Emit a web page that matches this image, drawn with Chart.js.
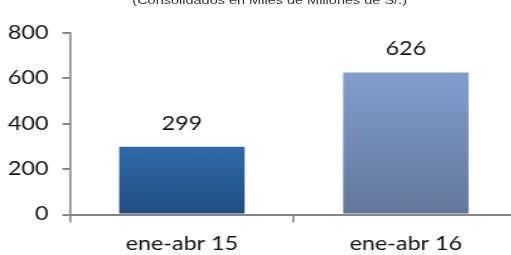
<!DOCTYPE html>
<html>
<head>
<meta charset="utf-8">
<script src="https://cdn.jsdelivr.net/npm/chart.js@4"></script>
<style>
html, body { margin: 0; padding: 0; overflow: hidden; background: #fff; width: 511px; height: 255px; }
/* the reference is a horizontally stretched export, so the chart is drawn narrower and widened */
#wrap { position: absolute; left: 0; top: 0; width: 411px; height: 255px; transform: scaleX(1.26); transform-origin: 0 0; }
#sub { position: absolute; left: 0; top: -6px; width: 428px; text-align: center; font: 11.5px "Liberation Sans", Arial, sans-serif; color: #333; white-space: nowrap; }
canvas { display: block; }
</style>
</head>
<body>
<div id="wrap">
  <canvas id="ventasChart" width="411" height="255"></canvas>
  <div id="sub">(Consolidados en Miles de Millones de S/.)</div>
</div>
<script>
// === DATA ===
const categories = ['ene-abr 15', 'ene-abr 16'];
const values = [299, 626];
const yTicks = [0, 200, 400, 600, 800];

const gradTop = ['#2f6aaa', '#819fcd'];
const gradBottom = ['#224d82', '#63769b'];
const axisColor = '#868686';
const labelFont = { family: 'Lato', size: 18.5 };

function barFill(ctx) {
    const chart = ctx.chart;
    const i = ctx.dataIndex;
    if (!chart.chartArea || ctx.type !== 'data') return gradTop[i];
    const y = chart.scales.y;
    const g = chart.ctx.createLinearGradient(0, y.getPixelForValue(ctx.parsed.y), 0, y.getPixelForValue(0));
    g.addColorStop(0, gradTop[i]);
    g.addColorStop(1, gradBottom[i]);
    return g;
}

// value labels above each bar
const valueLabels = {
    id: 'valueLabels',
    afterDatasetsDraw(chart) {
        const c = chart.ctx;
        const meta = chart.getDatasetMeta(0);
        c.save();
        c.font = '18.5px Lato';
        c.fillStyle = '#111';
        c.textAlign = 'center';
        c.textBaseline = 'alphabetic';
        meta.data.forEach((bar, i) => {
            c.fillText(String(values[i]), bar.x, bar.y - 17);
        });
        c.restore();
    }
};

function initChart() {
    const ctx = document.getElementById('ventasChart');
    new Chart(ctx, {
        type: 'bar',
        data: {
            labels: categories,
            datasets: [{ data: values, backgroundColor: barFill, borderWidth: 0, categoryPercentage: 1, barPercentage: 0.56 }]
        },
        options: {
            responsive: false,
            animation: false,
            layout: { padding: { left: -4.7, top: 33, right: 0, bottom: 0 } },
            plugins: { legend: { display: false }, tooltip: { enabled: false } },
            scales: {
                x: {
                    grid: { offset: true, drawOnChartArea: false, drawTicks: true, tickLength: 8, color: axisColor, lineWidth: 1.6 },
                    border: { color: axisColor, width: 2 },
                    ticks: { color: '#111', font: labelFont, padding: 10, maxRotation: 0 },
                    afterFit: (axis) => { axis.paddingLeft = 0; axis.paddingRight = 0; axis.height = 40.5; }
                },
                y: {
                    min: yTicks[0],
                    max: yTicks[yTicks.length - 1],
                    afterBuildTicks: (axis) => { axis.ticks = yTicks.map(v => ({ value: v })); },
                    grid: { drawOnChartArea: false, drawTicks: true, tickLength: 6, color: axisColor, lineWidth: 2 },
                    border: { color: axisColor, width: 1.6 },
                    ticks: { color: '#111', font: labelFont, padding: 11 }
                }
            }
        },
        plugins: [valueLabels]
    });
}

document.addEventListener('DOMContentLoaded', initChart);
</script>
</body>
</html>
